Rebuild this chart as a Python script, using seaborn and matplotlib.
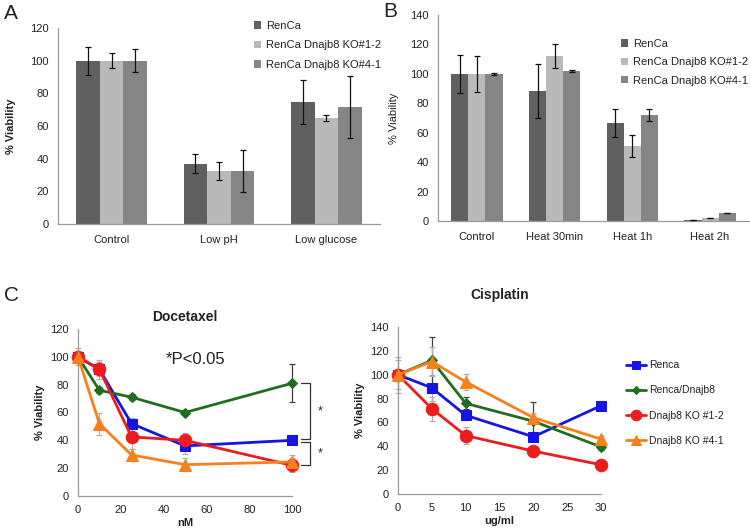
import numpy as np
import pandas as pd
import matplotlib
matplotlib.use("Agg")
import matplotlib.pyplot as plt
import seaborn as sns


# ----------------------------
# Data
# ----------------------------
bar_series = ["RenCa", "RenCa Dnajb8 KO#1-2", "RenCa Dnajb8 KO#4-1"]

# Panel A - stress conditions
a_conditions = ["Control", "Low pH", "Low glucose"]
a_renca = [100, 37, 74.5]
a_ko12 = [100, 32.5, 65]
a_ko41 = [100, 32.5, 71.5]
a_renca_err = [8.5, 6, 13.5]
a_ko12_err = [4.5, 5.5, 2]
a_ko41_err = [7, 13, 19]

# Panel B - heat shock
b_conditions = ["Control", "Heat 30min", "Heat 1h", "Heat 2h"]
b_renca = [100, 88.5, 66.5, 0.5]
b_ko12 = [100, 112, 51, 2]
b_ko41 = [100, 102, 72, 5.5]
b_renca_err = [13, 18.5, 9.5, 0]
b_ko12_err = [12, 8, 7.5, 0]
b_ko41_err = [0.5, 0.7, 4, 0]

# Panel C - drug dose response
line_series = ["Renca", "Renca/Dnajb8", "Dnajb8 KO #1-2", "Dnajb8 KO #4-1"]

doc_dose = [0, 10, 25, 50, 100]
doc_renca = [100, 91, 52, 36, 40]
doc_renca_dnajb8 = [100, 76, 71, 60, 81]
doc_ko12 = [100, 91, 42.5, 40, 22]
doc_ko41 = [100, 52, 29.5, 22.5, 24.5]
doc_renca_err = [0, 5, 4, 6, 1]
doc_renca_dnajb8_err = [0, 2, 2, 1.5, 13.5]
doc_ko12_err = [6, 7, 9, 5, 5]
doc_ko41_err = [2, 8, 4, 4.5, 5]

cis_dose = [0, 5, 10, 20, 30]
cis_renca = [100, 89, 66, 48, 74]
cis_renca_dnajb8 = [100, 112, 76, 61, 39.5]
cis_ko12 = [100, 71.5, 49, 36, 24.5]
cis_ko41 = [100, 111, 94, 64, 46]
cis_renca_err = [12, 11, 4, 2, 2]
cis_renca_dnajb8_err = [3, 20, 5, 16, 3]
cis_ko12_err = [5, 10, 7, 4, 3]
cis_ko41_err = [15, 12, 7, 4, 3]

# ----------------------------
# Styles
# ----------------------------
bar_colors = ["#606060", "#b9b9b9", "#858585"]
line_colors = ["#1414e6", "#1f6e1f", "#ec1c1c", "#f7801e"]
line_markers = ["s", "D", "o", "^"]
marker_sizes = [6.5, 5, 9, 8]
err_colors = ["#b0b0b0", "#404040", "#b0b0b0", "#b0b0b0"]
spine_color = "#9a9a9a"
text_color = "#222222"

sns.set_style("white")
plt.rcParams["font.family"] = ["Liberation Sans", "DejaVu Sans"]

W, H = 750, 528
fig = plt.figure(figsize=(7.5, 5.28), dpi=100)


def axes_px(left, top, right, bottom):
    """Create axes from pixel box (origin top-left)."""
    return fig.add_axes([left / W, 1 - bottom / H, (right - left) / W, (bottom - top) / H])


def style_axes(ax):
    sns.despine(ax=ax)
    for s in ("left", "bottom"):
        ax.spines[s].set_color(spine_color)
        ax.spines[s].set_linewidth(0.9)
    ax.tick_params(axis="both", colors=spine_color, labelcolor=text_color,
                   labelsize=8, length=3, width=0.8, direction="out")


def bar_panel(ax, conditions, values, errors, ymax):
    frames = []
    for name, vals in zip(bar_series, values):
        frames.append(pd.DataFrame({"condition": conditions, "series": name, "viability": vals}))
    df = pd.concat(frames, ignore_index=True)
    width = 0.66
    sns.barplot(data=df, x="condition", y="viability", hue="series", hue_order=bar_series,
                order=conditions, palette=bar_colors, width=width, gap=0,
                errorbar=None, saturation=1, ax=ax, linewidth=0)
    step = width / len(bar_series)
    for i, (vals, errs) in enumerate(zip(values, errors)):
        xs = np.arange(len(conditions)) + (i - 1) * step
        ax.errorbar(xs, vals, yerr=errs, fmt="none", ecolor="#111111",
                    elinewidth=0.9, capsize=2.5, capthick=0.9, zorder=5)
    ax.set_xlim(-0.5, len(conditions) - 0.5)
    ax.set_ylim(0, ymax)
    ax.set_yticks(np.arange(0, ymax + 1, 20))
    ax.set_xlabel("")
    style_axes(ax)
    ax.set_xticks(np.arange(len(conditions) + 1) - 0.5, minor=True)
    ax.tick_params(axis="x", which="major", length=0, pad=8)
    ax.tick_params(axis="x", which="minor", length=4, color=spine_color, width=0.8)


legend_kw = dict(frameon=False, fontsize=8, handlelength=0.65, handleheight=0.65,
                 handletextpad=0.45, labelcolor=text_color, loc="upper left",
                 bbox_transform=fig.transFigure)

# ----------------------------
# Panel A
# ----------------------------
ax_a = axes_px(58, 28, 380, 224)
bar_panel(ax_a, a_conditions, [a_renca, a_ko12, a_ko41],
          [a_renca_err, a_ko12_err, a_ko41_err], 120)
ax_a.set_ylabel("% Viability", fontsize=8, fontweight="bold", color=text_color, labelpad=10)
ax_a.legend(bbox_to_anchor=(244 / W, 1 - 11 / H), labelspacing=0.85, **legend_kw)

# ----------------------------
# Panel B
# ----------------------------
ax_b = axes_px(438, 15, 749, 221)
bar_panel(ax_b, b_conditions, [b_renca, b_ko12, b_ko41],
          [b_renca_err, b_ko12_err, b_ko41_err], 140)
ax_b.set_ylabel("% Viability", fontsize=8, color=text_color, labelpad=8)
ax_b.legend(bbox_to_anchor=(611 / W, 1 - 29 / H), labelspacing=0.75, **legend_kw)


def line_panel(ax, dose, values, errors):
    for i, (name, vals, errs) in enumerate(zip(line_series, values, errors)):
        ax.errorbar(dose, vals, yerr=errs, fmt="none", ecolor=err_colors[i],
                    elinewidth=0.9, capsize=2.5, capthick=0.9, zorder=2, clip_on=False)
        df = pd.DataFrame({"dose": dose, "viability": vals})
        sns.lineplot(data=df, x="dose", y="viability", color=line_colors[i],
                     marker=line_markers[i], markersize=marker_sizes[i],
                     markeredgecolor=line_colors[i], linewidth=2, label=name,
                     ax=ax, zorder=3 + i, clip_on=False)
    style_axes(ax)


# ----------------------------
# Panel C - Docetaxel
# ----------------------------
ax_d = axes_px(78, 329, 292, 496)
line_panel(ax_d, doc_dose,
           [doc_renca, doc_renca_dnajb8, doc_ko12, doc_ko41],
           [doc_renca_err, doc_renca_dnajb8_err, doc_ko12_err, doc_ko41_err])
ax_d.get_legend().remove()
ax_d.set_xlim(0, 100)
ax_d.set_ylim(0, 120)
ax_d.set_xticks(np.arange(0, 101, 20))
ax_d.set_yticks(np.arange(0, 121, 20))
ax_d.set_xlabel("nM", fontsize=8, fontweight="bold", color=text_color, labelpad=2)
ax_d.set_ylabel("% Viability", fontsize=8, fontweight="bold", color=text_color)
ax_d.set_title("Docetaxel", fontsize=10, fontweight="bold", color=text_color, pad=6)
ax_d.text(55, 98, "*P<0.05", fontsize=12, color=text_color, ha="center", va="center")

# significance brackets
for y_top, y_bot in [(81, 41), (39, 22.5)]:
    ax_d.plot([104, 108.5, 108.5, 104], [y_top, y_top, y_bot, y_bot], color="#333333",
              linewidth=0.9, clip_on=False)
    ax_d.text(113, (y_top + y_bot) / 2, "*", fontsize=9, color=text_color,
              ha="center", va="center", clip_on=False)

# ----------------------------
# Panel C - Cisplatin
# ----------------------------
ax_c = axes_px(398, 327, 601, 494)
line_panel(ax_c, cis_dose,
           [cis_renca, cis_renca_dnajb8, cis_ko12, cis_ko41],
           [cis_renca_err, cis_renca_dnajb8_err, cis_ko12_err, cis_ko41_err])
handles, labels = ax_c.get_legend_handles_labels()
ax_c.get_legend().remove()
ax_c.set_xlim(0, 30)
ax_c.set_ylim(0, 140)
ax_c.set_xticks(np.arange(0, 31, 5))
ax_c.set_yticks(np.arange(0, 141, 20))
ax_c.set_xlabel("ug/ml", fontsize=8, fontweight="bold", color=text_color, labelpad=2)
ax_c.set_ylabel("% Viability", fontsize=8, fontweight="bold", color=text_color)
ax_c.set_title("Cisplatin", fontsize=10, fontweight="bold", color=text_color, pad=20)
fig.legend(handles, labels, loc="upper left", bbox_to_anchor=(617 / W, 1 - 351 / H),
           frameon=False, fontsize=7.5, handlelength=1.9, handletextpad=0.25,
           labelspacing=1.45, labelcolor=text_color, markerscale=0.85)

# panel letters
fig.text(4 / W, 1 - 4 / H, "A", fontsize=15, va="top", ha="left", color=text_color)
fig.text(383 / W, 1 - 2 / H, "B", fontsize=15, va="top", ha="left", color=text_color)
fig.text(4 / W, 1 - 286 / H, "C", fontsize=15, va="top", ha="left", color=text_color)

fig.savefig("out.png", dpi=100)
